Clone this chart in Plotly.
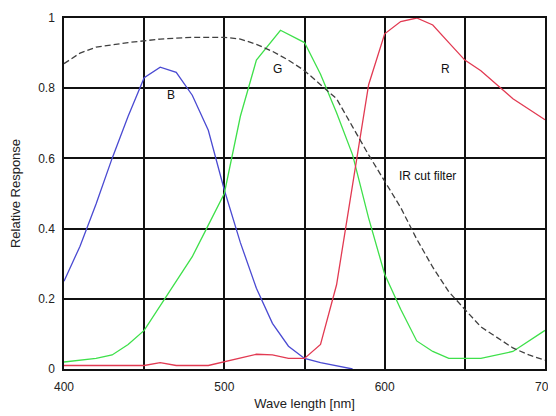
import plotly.graph_objects as go

# Blue channel
b_wl = [400, 410, 420, 430, 440, 450, 460, 470, 480, 490, 500, 510, 520, 530, 540, 550, 560, 570, 580]
b_val = [0.25, 0.35, 0.47, 0.60, 0.72, 0.83, 0.86, 0.845, 0.78, 0.68, 0.51, 0.36, 0.23, 0.13, 0.065, 0.03, 0.018, 0.008, 0.0]

# Green channel
g_wl = [400, 410, 420, 430, 440, 450, 460, 470, 480, 490, 500, 510, 520, 535, 550, 560, 570, 580, 590, 600, 610, 620, 630, 640, 660, 680, 700]
g_val = [0.02, 0.025, 0.03, 0.04, 0.07, 0.11, 0.18, 0.25, 0.32, 0.41, 0.50, 0.72, 0.88, 0.965, 0.93, 0.84, 0.73, 0.61, 0.43, 0.27, 0.17, 0.08, 0.05, 0.03, 0.03, 0.05, 0.11]

# Red channel
r_wl = [400, 420, 450, 460, 470, 490, 500, 520, 530, 540, 550, 560, 570, 580, 590, 600, 610, 620, 630, 640, 650, 660, 670, 680, 690, 700]
r_val = [0.01, 0.01, 0.01, 0.018, 0.01, 0.01, 0.02, 0.042, 0.04, 0.03, 0.03, 0.07, 0.24, 0.52, 0.81, 0.955, 0.99, 1.0, 0.98, 0.93, 0.88, 0.85, 0.81, 0.77, 0.74, 0.71]

# IR cut filter
ir_wl = [400, 410, 420, 440, 460, 480, 500, 510, 520, 530, 540, 550, 560, 570, 580, 590, 600, 610, 620, 630, 640, 650, 660, 670, 680, 690, 700]
ir_val = [0.87, 0.90, 0.917, 0.93, 0.94, 0.945, 0.945, 0.94, 0.925, 0.905, 0.88, 0.85, 0.81, 0.77, 0.69, 0.61, 0.535, 0.46, 0.37, 0.29, 0.22, 0.17, 0.12, 0.09, 0.06, 0.04, 0.025]

x_ticks = [400, 500, 600, 700]
y_ticks = [0, 0.2, 0.4, 0.6, 0.8, 1]
y_tick_text = ["0", "0.2", "0.4", "0.6", "0.8", "1"]

labels = [("B", 467, 0.78), ("G", 533, 0.855), ("R", 638, 0.855), ("IR cut filter", 627, 0.55)]

fig = go.Figure()
fig.add_trace(go.Scatter(x=b_wl, y=b_val, mode="lines", line=dict(color="#4a4ad2", width=1.3), name="B"))
fig.add_trace(go.Scatter(x=g_wl, y=g_val, mode="lines", line=dict(color="#3ee04a", width=1.3), name="G"))
fig.add_trace(go.Scatter(x=r_wl, y=r_val, mode="lines", line=dict(color="#e23a52", width=1.3), name="R"))
fig.add_trace(go.Scatter(x=ir_wl, y=ir_val, mode="lines", line=dict(color="#404040", width=1.3, dash="6px,3px"), name="IR cut filter"))

for text, x, y in labels:
    fig.add_annotation(x=x, y=y, text=text, showarrow=False,
                       font=dict(family="Liberation Sans, Arial", size=12, color="#111"))

# page body adds an 8px offset; figure sized so the plot lands where the reference has it
fig.update_layout(
    width=548, height=408,
    margin=dict(l=56, r=11, t=10, b=47),
    paper_bgcolor="white", plot_bgcolor="white",
    showlegend=False,
    font=dict(family="Liberation Sans, Arial", size=12, color="#222"),
)
fig.update_xaxes(
    range=[400, 700], tickvals=x_ticks, automargin=False,
    showgrid=True, gridcolor="#111", gridwidth=1.5,
    showline=True, linecolor="#111", linewidth=1.5, mirror=True,
    zeroline=False, ticks="", ticklabelstandoff=6,
    minor=dict(showgrid=True, gridcolor="#111", gridwidth=1.5, tickvals=[450, 550, 650]),
    title=dict(text="Wave length [nm]", font=dict(size=13), standoff=6),
)
fig.update_yaxes(
    range=[0, 1], tickvals=y_ticks, ticktext=y_tick_text, automargin=False,
    showgrid=True, gridcolor="#111", gridwidth=1.5,
    showline=True, linecolor="#111", linewidth=1.5, mirror=True,
    zeroline=False, ticks="", ticklabelstandoff=5,
    title=dict(text="Relative Response", font=dict(size=13), standoff=18),
)
fig.write_html("out.html")
